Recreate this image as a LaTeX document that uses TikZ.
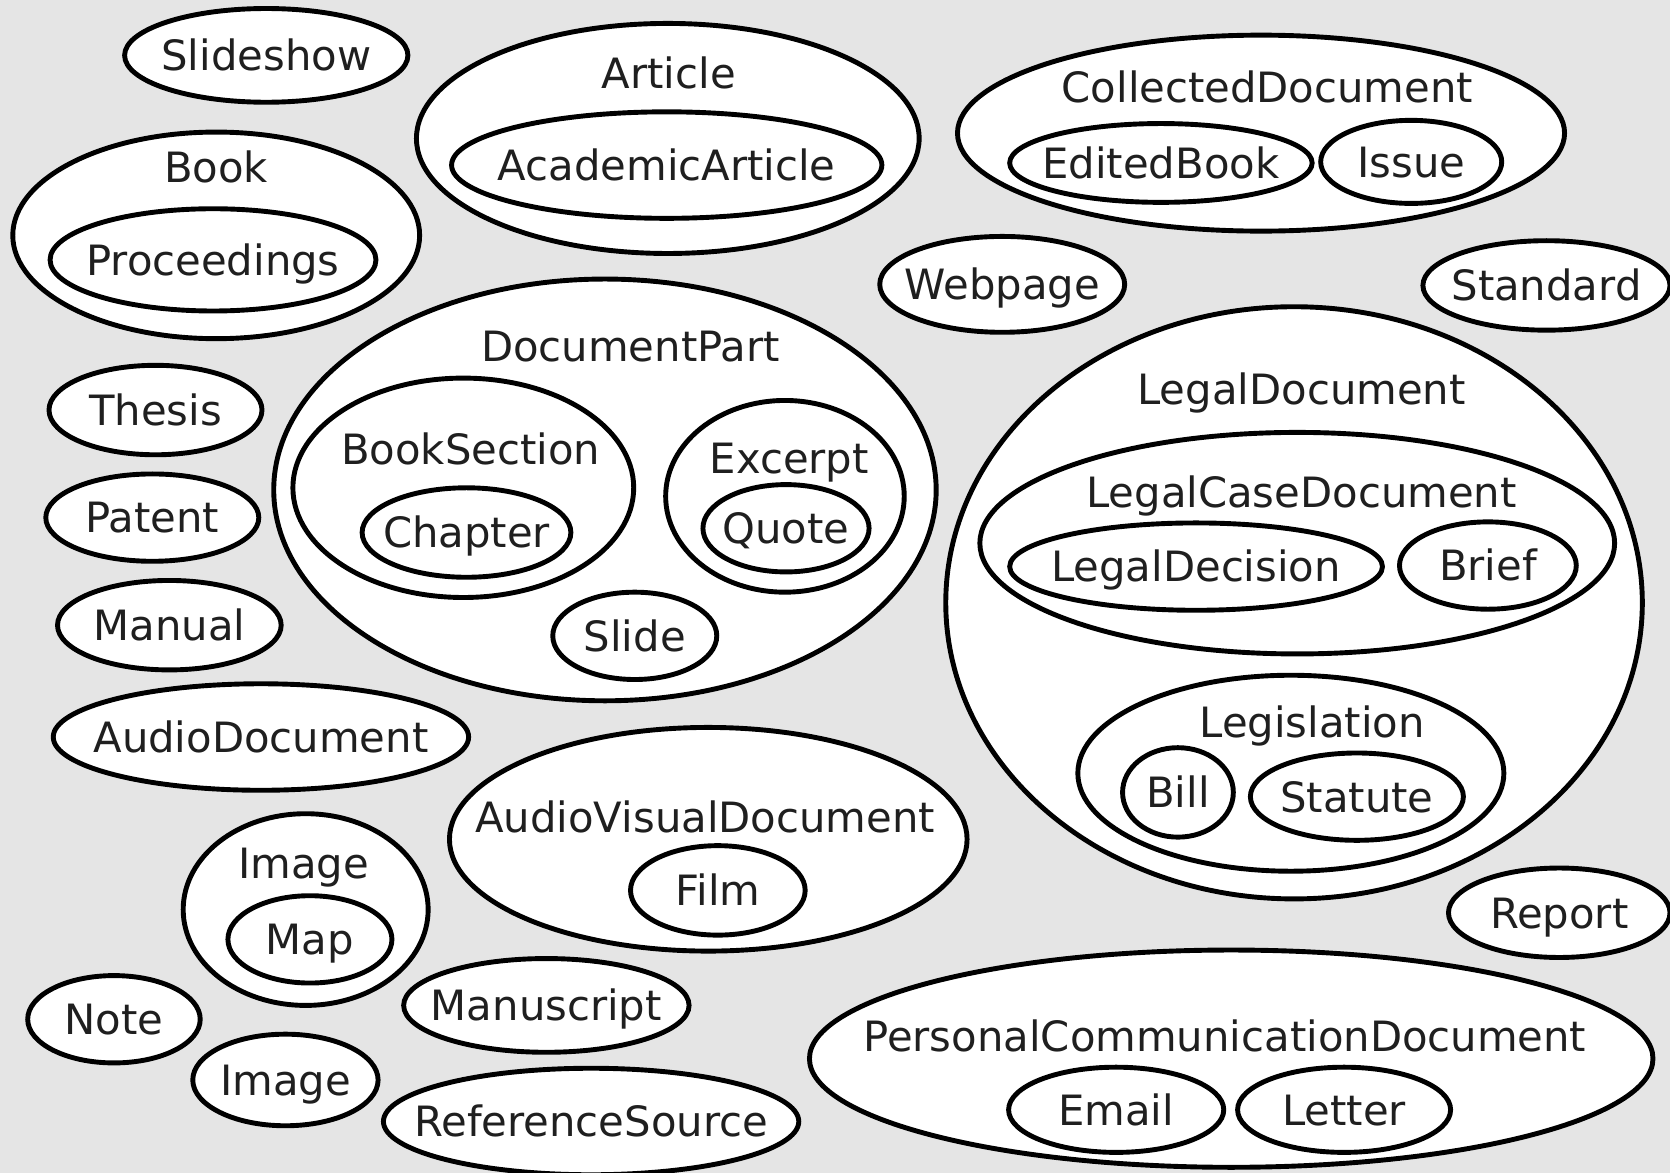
\documentclass[tikz,border=0pt]{standalone}
\usepackage{fontspec}
\setmainfont{DejaVu Sans}
\usetikzlibrary{shapes.geometric,positioning}

\begin{document}
\begin{tikzpicture}[x=0.5pt,y=-0.5pt,
    blob/.style={draw,ellipse,fill=white,line width=2.3pt,inner sep=0pt},
    lbl/.style={text=black!88,font=\fontsize{19.6}{20}\selectfont,text height=14.4pt,text depth=0pt,inner sep=0pt},
    leaf/.style={blob,label={[lbl]center:#1}}]
    \fill[black!10] (0,0) rectangle (1568,1101);
    \useasboundingbox (0,0) rectangle (1568,1101);
    % left column
    \node[leaf=Slideshow,minimum width=133pt,minimum height=44pt] (slideshow) at (250,52) {};
    \node[blob,minimum width=191pt,minimum height=97pt] (book) at (203,221) {};
    \node[lbl] (booklbl) at (203,157) {Book};
    \node[leaf=Proceedings,minimum width=153pt,minimum height=48pt] (proceedings) at (200,244) {};
    \node[leaf=Thesis,minimum width=100pt,minimum height=42pt] (thesis) at (146,385) {};
    \node[leaf=Patent,minimum width=100pt,minimum height=41pt] (patent) at (143,486) {};
    \node[leaf=Manual,minimum width=105pt,minimum height=42pt] (manual) at (159,587) {};
    \node[leaf=AudioDocument,minimum width=195pt,minimum height=50pt] (audio) at (245,692) {};
    \node[blob,minimum width=115pt,minimum height=90pt] (image) at (287,854) {};
    \node[lbl] (imagelbl) at (285,810) {Image};
    \node[leaf=Map,minimum width=77pt,minimum height=41pt] (map) at (291,882) {};
    \node[leaf=Note,minimum width=81pt,minimum height=41pt] (note) at (107,957) {};
    \node[leaf=Image,minimum width=87pt,minimum height=43pt] (image2) at (268,1014) {};
    % middle
    \node[blob,minimum width=236pt,minimum height=108pt] (article) at (627,130) {};
    \node[lbl] (articlelbl) at (628,69) {Article};
    \node[leaf=AcademicArticle,minimum width=202pt,minimum height=50pt] (academic) at (626,155) {};
    \node[blob,minimum width=311pt,minimum height=198pt] (docpart) at (568,460) {};
    \node[lbl] (docpartlbl) at (592,325) {DocumentPart};
    \node[blob,minimum width=160pt,minimum height=103pt] (booksec) at (435,458) {};
    \node[lbl] (booseclbl) at (442,422) {BookSection};
    \node[leaf=Chapter,minimum width=98pt,minimum height=42pt] (chapter) at (438,500) {};
    \node[blob,minimum width=112pt,minimum height=90pt] (excerpt) at (737,466) {};
    \node[lbl] (excerptlbl) at (741,430) {Excerpt};
    \node[leaf=Quote,minimum width=78pt,minimum height=41pt] (quote) at (738,496) {};
    \node[leaf=Slide,minimum width=77pt,minimum height=41pt] (slide) at (596,597) {};
    \node[blob,minimum width=243pt,minimum height=105pt] (audiovis) at (665,788) {};
    \node[lbl] (audiovislbl) at (662,767) {AudioVisualDocument};
    \node[leaf=Film,minimum width=82pt,minimum height=42pt] (film) at (674,836) {};
    \node[leaf=Manuscript,minimum width=134pt,minimum height=44pt] (manuscript) at (513,944) {};
    \node[leaf=ReferenceSource,minimum width=195pt,minimum height=50pt] (refsource) at (555,1053) {};
    \node[leaf=Webpage,minimum width=115pt,minimum height=45pt] (webpage) at (941,267) {};
    % right
    \node[blob,minimum width=285pt,minimum height=92pt] (collected) at (1184,125) {};
    \node[lbl] (collectedlbl) at (1190,82) {CollectedDocument};
    \node[leaf=EditedBook,minimum width=142pt,minimum height=37pt] (edited) at (1090,153) {};
    \node[leaf=Issue,minimum width=85pt,minimum height=39pt] (issue) at (1325,152) {};
    \node[leaf=Standard,minimum width=116pt,minimum height=42pt] (standard) at (1452,268) {};
    \node[blob,minimum width=327pt,minimum height=278pt] (legal) at (1215,566) {};
    \node[lbl] (legallbl) at (1222,365) {LegalDocument};
    \node[blob,minimum width=298pt,minimum height=104pt] (legalcase) at (1218,510) {};
    \node[lbl] (legalcaselbl) at (1222,462) {LegalCaseDocument};
    \node[leaf=LegalDecision,minimum width=175pt,minimum height=41pt] (decision) at (1123,532) {};
    \node[leaf=Brief,minimum width=83pt,minimum height=41pt] (brief) at (1397,531) {};
    \node[blob,minimum width=200pt,minimum height=92pt] (legislation) at (1212,726) {};
    \node[lbl] (legislationlbl) at (1232,678) {Legislation};
    \node[leaf=Bill,minimum width=52pt,minimum height=42pt] (bill) at (1106,744) {};
    \node[leaf=Statute,minimum width=100pt,minimum height=41pt] (statute) at (1274,748) {};
    \node[leaf=Report,minimum width=104pt,minimum height=42pt] (report) at (1464,857) {};
    \node[blob,minimum width=396pt,minimum height=102pt] (personal) at (1156,994) {};
    \node[lbl] (personallbl) at (1150,973) {PersonalCommunicationDocument};
    \node[leaf=Email,minimum width=101pt,minimum height=40pt] (email) at (1048,1042) {};
    \node[leaf=Letter,minimum width=100pt,minimum height=40pt] (letter) at (1262,1042) {};
\end{tikzpicture}
\end{document}
